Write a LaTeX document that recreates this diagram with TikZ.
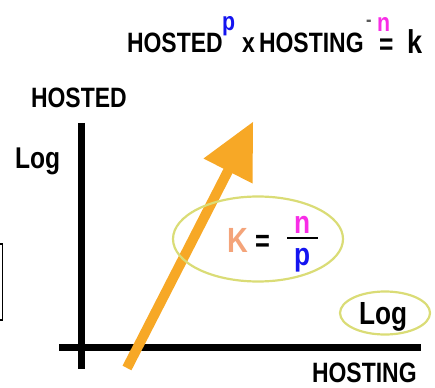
\documentclass[tikz,border=0pt]{standalone}
\usepackage{fontspec}
\usetikzlibrary{shapes.geometric}
\newfontfamily\fnt{Liberation Sans}[FakeStretch=0.82]
\definecolor{arroworange}{RGB}{247,168,38}
\definecolor{ellyellow}{RGB}{218,220,118}
\definecolor{supblue}{RGB}{20,20,240}
\definecolor{supmag}{RGB}{248,45,230}
\definecolor{ksalmon}{RGB}{244,164,122}
\definecolor{dashgray}{RGB}{90,90,90}
\begin{document}
\begin{tikzpicture}[x=1pt,y=-1pt,
  txt/.style={inner sep=0pt,outer sep=0pt,anchor=base west,font=\fnt\bfseries\fontsize{28}{32}\selectfont},
  bigtxt/.style={txt,font=\fnt\bfseries\fontsize{30}{34}\selectfont},
  suptxt/.style={txt,font=\fnt\bfseries\fontsize{26}{29}\selectfont},
  fractxt/.style={txt,font=\fnt\bfseries\fontsize{32}{35}\selectfont},
  axis/.style={line width=7pt},
  ell/.style={draw=ellyellow,line width=2.2pt,ellipse,inner sep=0pt},
]
\useasboundingbox (0,0) rectangle (435,387);
% left clipped box
\draw[line width=1.5pt] (-20,244) rectangle (2.5,320);
% top formula
\node[txt] (hosted1) at (127,53) {HOSTED};
\node[suptxt,text=supblue] (p1) at (222,31) {p};
\node[txt] (x1) at (242,53) {x};
\node[txt] (hosting1) at (259,53) {HOSTING};
\node[suptxt,text=dashgray,font=\fnt\bfseries\fontsize{20}{22}\selectfont] (minus1) at (366,27) {-};
\node[suptxt,text=supmag] (n1) at (377,32) {n};
\node[txt,font=\fnt\bfseries\fontsize{30}{32}\selectfont] (eq1) at (379,55) {=};
\node[txt,font=\fnt\bfseries\fontsize{33}{36}\selectfont] (k1) at (407,54) {k};
% axis labels
\node[txt] (hostedlab) at (31,108) {HOSTED};
\node[bigtxt] (logy) at (15,168) {Log};
\node[txt] (hostinglab) at (312,382) {HOSTING};
% axes
\coordinate (ytop) at (81,123);
\coordinate (ybot) at (81,369);
\coordinate (xleft) at (59,347);
\coordinate (xright) at (421,347);
\draw[axis] (ytop) -- (ybot);
\draw[axis] (xleft) -- (xright);
% orange arrow
\coordinate (astart) at (127,368);
\coordinate (abase) at (229,169);
\coordinate (atip) at (253,122);
\coordinate (awl) at (203.5,158.5);
\coordinate (awr) at (252.5,183.5);
\draw[arroworange,line width=10pt] (astart) -- (abase);
\fill[arroworange] (atip) -- (awl) -- (awr) -- cycle;
% ellipse with K = n/p
\node[ell,minimum width=170pt,minimum height=85pt] (e1) at (258,239) {};
\node[txt,text=ksalmon,font=\fnt\bfseries\fontsize{35}{38}\selectfont] (K) at (227,252) {K};
\node[txt,font=\fnt\bfseries\fontsize{31}{34}\selectfont] (eq2) at (255,251) {=};
\node[fractxt,text=supmag] (n2) at (294,233) {n};
\node[fractxt,text=supblue] (p2) at (294,265) {p};
\coordinate (barl) at (287,238);
\coordinate (barr) at (318,238);
\draw[line width=1.8pt] (barl) -- (barr);
% Log ellipse
\node[ell,minimum width=90pt,minimum height=43pt] (e2) at (385,313) {};
\node[bigtxt,font=\fnt\bfseries\fontsize{32}{35}\selectfont] (logx) at (359,324) {Log};
\end{tikzpicture}
\end{document}
